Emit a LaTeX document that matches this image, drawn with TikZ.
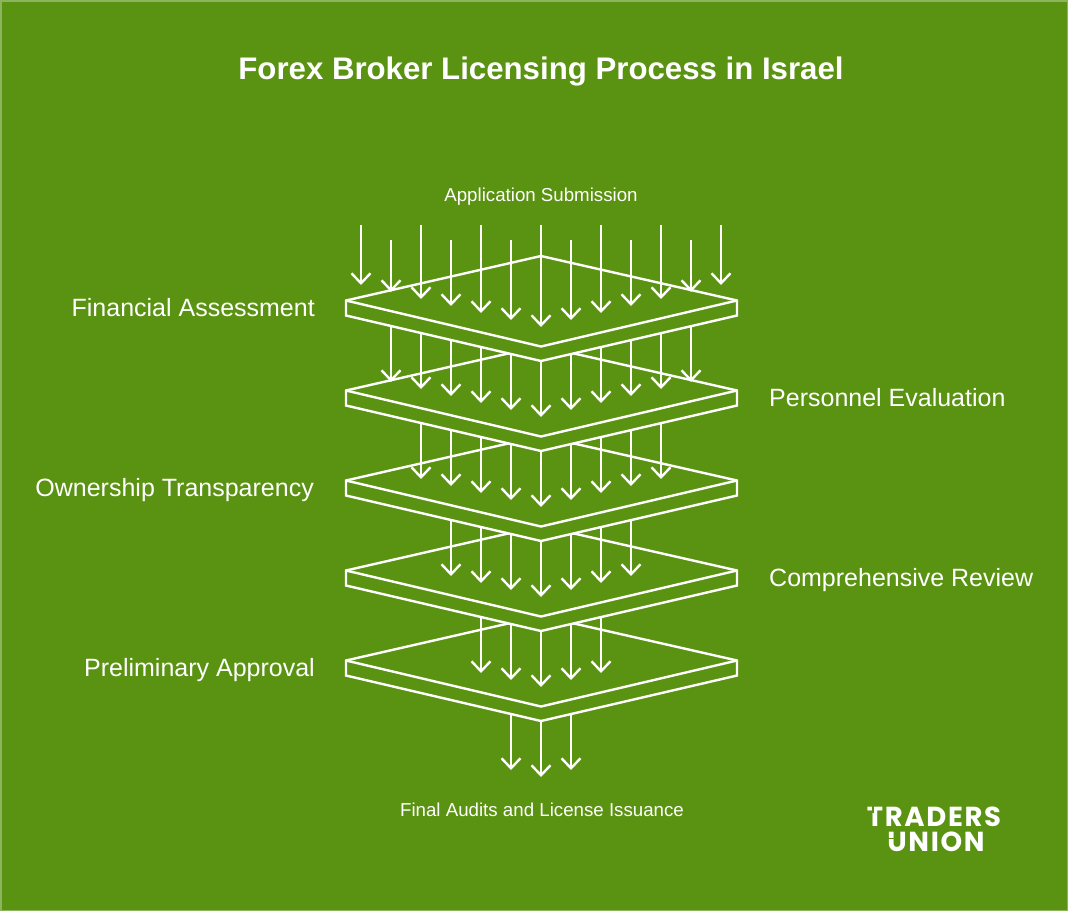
\documentclass[tikz,border=0pt]{standalone}
\usepackage{fontspec}
\setmainfont{Liberation Sans}
\newfontfamily\logofont[LetterSpace=6]{Poppins}
\usetikzlibrary{arrows.meta}
\definecolor{bggreen}{HTML}{5A9211}
\definecolor{edgegreen}{HTML}{8DB35E}
\tikzset{
  lbl/.style={inner sep=0pt,text=white,font=\fontsize{25}{29}\selectfont},
  smalllbl/.style={inner sep=0pt,text=white,font=\fontsize{18.7}{22}\selectfont},
  ttl/.style={inner sep=0pt,text=white,font=\bfseries\fontsize{31.2}{36}\selectfont},
  logotxt/.style={inner sep=0pt,text=white,font=\logofont\bfseries\fontsize{27.5}{30}\selectfont},
  plate/.style={draw=white,fill=bggreen,line width=2.4pt,line join=miter},
  flow/.style={draw=white,line width=2.4pt,-{Straight Barb[length=10pt,width=19pt,line width=2.4pt]}}
}
\begin{document}
\begin{tikzpicture}[x=1pt,y=-1pt]
\useasboundingbox (0,0) rectangle (1068,911);
\fill[edgegreen] (0,0) rectangle (1068,911);
\fill[bggreen] (1.5,1.5) rectangle (1066.5,909.5);
% plates, lowest first so that each upper plate hides the one below
\foreach \p in {4,3,2,1,0}{
  \pgfmathsetmacro{\t}{256+90*\p}
  \draw[plate] (541,\t) -- (737,\t+44.5) -- (737,\t+59.5) -- (541,\t+105) -- (346,\t+59.5) -- (346,\t+44.5) -- cycle;
  \draw[plate,fill=none] (346,\t+44.5) -- (541,\t+90.5) -- (737,\t+44.5);
}
% top row of arrows
\foreach \k in {-6,...,6}{
  \pgfmathsetmacro{\x}{541+30*\k}
  \pgfmathsetmacro{\ys}{isodd(\k) ? 240 : 225}
  \pgfmathsetmacro{\ye}{327-7*abs(\k)}
  \coordinate (a0s\k) at (\x,\ys);
  \coordinate (a0e\k) at (\x,\ye);
  \draw[flow] (a0s\k) -- (a0e\k);
}
% arrows passing from each plate to the next
\foreach \r/\n in {1/5,2/4,3/3,4/2,5/1}{
  \foreach \k in {-\n,...,\n}{
    \pgfmathsetmacro{\x}{541+30*\k}
    \pgfmathsetmacro{\ys}{271+90*\r-7*abs(\k)}
    \pgfmathsetmacro{\ye}{327+90*\r-7*abs(\k)}
    \coordinate (a\r s\k) at (\x,\ys);
    \coordinate (a\r e\k) at (\x,\ye);
    \draw[flow] (a\r s\k) -- (a\r e\k);
  }
}
\node[ttl,anchor=base] (title) at (541,79) {Forex Broker Licensing Process in Israel};
\node[smalllbl,anchor=base] (first) at (541,201.5) {Application Submission};
\node[smalllbl,anchor=base] (last) at (542,816.5) {Final Audits and License Issuance};
\node[lbl,anchor=base east] (l1) at (315,316.5) {Financial Assessment};
\node[lbl,anchor=base west] (l2) at (769,406.5) {Personnel Evaluation};
\node[lbl,anchor=base east] (l3) at (314,496.5) {Ownership Transparency};
\node[lbl,anchor=base west] (l4) at (769,586.5) {Comprehensive Review};
\node[lbl,anchor=base east] (l5) at (315,676.5) {Preliminary Approval};
\node[logotxt,anchor=base] (logo1) at (934,826) {TRADERS};
\node[logotxt,anchor=base] (logo2) at (936,851) {UNION};
% small slits in the logo lettering
\fill[bggreen] (872,806) rectangle (873.5,813);
\fill[bggreen] (888,837.5) rectangle (896,839);
\end{tikzpicture}
\end{document}
